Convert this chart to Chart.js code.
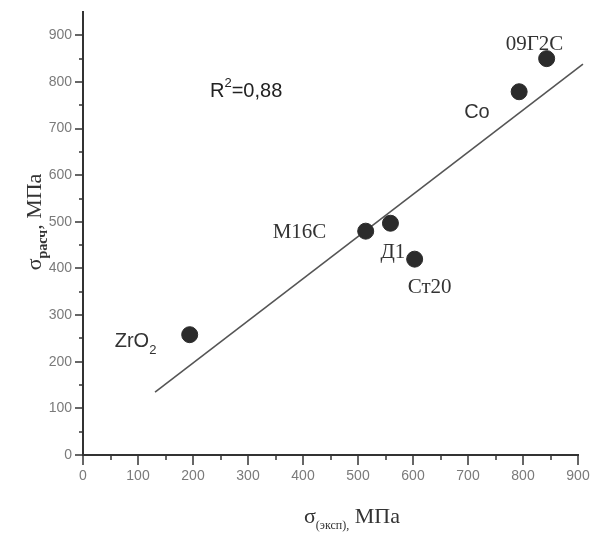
<!DOCTYPE html>
<html>
<head>
<meta charset="utf-8">
<script src="https://cdn.jsdelivr.net/npm/chart.js@4.4.1/dist/chart.umd.min.js"></script>
<style>
html,body{margin:0;padding:0;background:#fff;}
#wrap{width:592px;height:533px;position:relative;}
</style>
</head>
<body>
<div id="wrap"><canvas id="c" width="592" height="533"></canvas></div>
<script>
// ---- data ----
const materials = ['ZrO', 'М16С', 'Д1', 'Ст20', 'Co', '09Г2С'];
const sigmaExp  = [194, 514, 559, 603, 793, 843];
const sigmaCalc = [258, 480, 497, 420, 779, 850];
const fitX = [131, 909];
const fitY = [135, 838];
const xTickStep = 50, xMax = 900;
const yTickStep = 50, yMax = 950, yLabelMax = 900;
const r2Text = ['R', '2', '=0,88'];

const points = sigmaExp.map((x, i) => ({x: x, y: sigmaCalc[i]}));
const fitLine = fitX.map((x, i) => ({x: x, y: fitY[i]}));

const SERIF = '"Liberation Serif", "Times New Roman", serif';
const SANS = '"Liberation Sans", Arial, sans-serif';

// label styles (offsets from point pixel, font)
const labelStyle = [
  {dx: -75, dy: 12, font: '20px ' + SANS, sub: '2'},
  {dx: -93, dy: 7, font: '21px ' + SERIF},
  {dx: -10, dy: 35, font: '21px ' + SERIF},
  {dx: -7, dy: 34, font: '21px ' + SERIF},
  {dx: -55, dy: 26, font: '20px ' + SANS},
  {dx: -41, dy: -9, font: '21px ' + SERIF}
];

function drawRuns(ctx, runs, x, y) {
  let cx = x;
  runs.forEach(r => {
    ctx.font = r.font;
    ctx.fillText(r.t, cx, y + (r.dy || 0));
    cx += ctx.measureText(r.t).width;
  });
}
function runsWidth(ctx, runs) {
  let w = 0;
  runs.forEach(r => { ctx.font = r.font; w += ctx.measureText(r.t).width; });
  return w;
}

const annot = {
  id: 'annot',
  afterDraw(chart) {
    const ctx = chart.ctx;
    const xs = chart.scales.x, ys = chart.scales.y;
    const ca = chart.chartArea;
    ctx.save();
    // tick marks
    ctx.strokeStyle = '#333';
    ctx.lineWidth = 1.5;
    xs.ticks.forEach(t => {
      if (t.value > xMax) return;
      const px = Math.round(xs.getPixelForValue(t.value));
      const len = (t.value % 100 === 0) ? 10 : 5;
      ctx.beginPath();
      ctx.moveTo(px, ca.bottom);
      ctx.lineTo(px, ca.bottom + len);
      ctx.stroke();
    });
    ys.ticks.forEach(t => {
      if (t.value > yLabelMax) return;
      const py = Math.round(ys.getPixelForValue(t.value));
      const len = (t.value % 100 === 0) ? 8 : 4;
      ctx.beginPath();
      ctx.moveTo(ca.left, py);
      ctx.lineTo(ca.left - len, py);
      ctx.stroke();
    });

    // point labels
    ctx.fillStyle = '#333';
    ctx.textBaseline = 'alphabetic';
    ctx.textAlign = 'left';
    materials.forEach((name, i) => {
      const s = labelStyle[i];
      const px = xs.getPixelForValue(sigmaExp[i]);
      const py = ys.getPixelForValue(sigmaCalc[i]);
      const runs = [{t: name, font: s.font}];
      if (s.sub) runs.push({t: s.sub, font: '13px ' + SANS, dy: 7});
      drawRuns(ctx, runs, px + s.dx, py + s.dy);
    });

    // R^2
    ctx.fillStyle = '#222';
    drawRuns(ctx, [
      {t: r2Text[0], font: '20px ' + SANS},
      {t: r2Text[1], font: '13px ' + SANS, dy: -10},
      {t: r2Text[2], font: '20px ' + SANS}
    ], ca.left + 127, 97);

    // x title
    ctx.fillStyle = '#333';
    drawRuns(ctx, [
      {t: 'σ', font: '22px ' + SERIF},
      {t: '(эксп),', font: '12px ' + SERIF, dy: 6},
      {t: ' МПа', font: '22px ' + SERIF}
    ], 304, 523);

    // y title
    const yRuns = [
      {t: 'σ', font: '22px ' + SERIF},
      {t: 'расч', font: 'bold 14px ' + SERIF, dy: 6},
      {t: ', МПа', font: '22px ' + SERIF}
    ];
    const w = runsWidth(ctx, yRuns);
    ctx.translate(41, 222);
    ctx.rotate(-Math.PI / 2);
    drawRuns(ctx, yRuns, -w / 2, 0);
    ctx.restore();
  }
};

new Chart(document.getElementById('c'), {
  type: 'scatter',
  data: {
    datasets: [
      {
        data: fitLine,
        showLine: true,
        borderColor: '#555',
        borderWidth: 1.6,
        pointRadius: 0,
        pointHoverRadius: 0,
        clip: false,
        order: 2
      },
      {
        data: points,
        backgroundColor: '#2b2b2b',
        borderColor: '#2b2b2b',
        borderWidth: 1,
        pointRadius: 8,
        pointHoverRadius: 8,
        order: 1
      }
    ]
  },
  options: {
    responsive: false,
    animation: false,
    events: [],
    layout: {padding: {left: 0, top: 12, right: 14, bottom: 0}},
    plugins: {legend: {display: false}, tooltip: {enabled: false}, title: {display: false}},
    scales: {
      x: {
        type: 'linear',
        min: 0, max: xMax,
        afterFit(s) { s.height = 78; s.paddingLeft = 0; s.paddingRight = 0; },
        border: {display: true, color: '#333', width: 2},
        grid: {display: true, drawOnChartArea: false, drawTicks: false},
        ticks: {
          stepSize: xTickStep,
          autoSkip: false,
          maxRotation: 0,
          padding: 13,
          color: '#7a7a7a',
          font: {family: SANS, size: 14},
          callback: v => (v % 100 === 0 ? String(v) : '')
        }
      },
      y: {
        type: 'linear',
        min: 0, max: yMax,
        afterFit(s) { s.width = 83; s.paddingTop = 0; s.paddingBottom = 0; },
        border: {display: true, color: '#333', width: 2},
        grid: {display: true, drawOnChartArea: false, drawTicks: false},
        ticks: {
          stepSize: yTickStep,
          autoSkip: false,
          padding: 11,
          color: '#7a7a7a',
          font: {family: SANS, size: 14},
          callback: v => (v % 100 === 0 && v <= yLabelMax ? String(v) : '')
        }
      }
    }
  },
  plugins: [annot]
});
</script>
</body>
</html>
